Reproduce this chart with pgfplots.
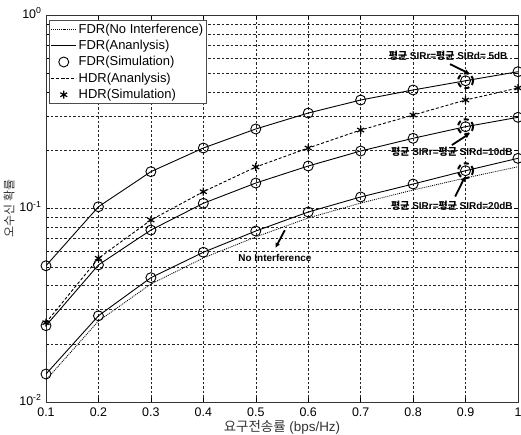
\documentclass[border=0pt]{standalone}
\usepackage{fontspec}
\setmainfont{Liberation Sans}
\newfontfamily\cjk{Noto Sans CJK KR}
\usepackage{pgfplots}
\usepackage{pgfplotstable}
\pgfplotsset{compat=1.18}
\usetikzlibrary{arrows.meta}

% x, FDR 5dB, HDR 5dB, FDR 10dB, FDR 20dB, no interference
\pgfplotstableread{
x    fdrA    hdr     fdrB    fdrC     noint
0.1  0.0506  0.0257  0.0248  0.01395  0.0130
0.2  0.1021  0.0553  0.0511  0.0279   0.0262
0.3  0.1550  0.0872  0.0774  0.0439   0.0407
0.4  0.2054  0.1221  0.1064  0.0594   0.0555
0.5  0.2576  0.1639  0.1354  0.0765   0.0713
0.6  0.3114  0.2054  0.1658  0.0959   0.0893
0.7  0.3636  0.2544  0.1982  0.1147   0.1067
0.8  0.4097  0.3041  0.2306  0.1338   0.1246
0.9  0.4574  0.3636  0.2647  0.1568   0.1438
1.0  0.5093  0.4195  0.2960  0.1817   0.1644
}\data

\begin{document}
\begin{tikzpicture}
\path[use as bounding box] (-46bp,-33bp) rectangle (475bp,402bp);
\begin{axis}[
  width=472bp, height=387bp, scale only axis,
  ymode=log, log basis y=10,
  xmin=0.1, xmax=1, ymin=0.01, ymax=1,
  xtick={0.1,0.2,0.3,0.4,0.5,0.6,0.7,0.8,0.9,1},
  xticklabels={0.1,0.2,0.3,0.4,0.5,0.6,0.7,0.8,0.9,1},
  yticklabel={10\textsuperscript{\pgfmathparse{int(round(\tick))}\pgfmathresult}},
  grid=both,
  major grid style={black!85, line width=0.5bp, dash pattern=on 2.5bp off 2bp},
  minor grid style={black!85, line width=0.5bp, dash pattern=on 2.5bp off 2bp},
  tick align=inside, major tick length=4bp, minor tick length=2.5bp,
  tick style={black, line width=0.5bp},
  axis line style={black!80, line width=0.6bp},
  tick label style={font=\fontsize{12.5}{14}\selectfont},
  xticklabel style={yshift=-2bp},
  yticklabel style={yshift=2bp, xshift=-1bp},
  label style={text=black!80},
  xlabel={{\cjk 요구전송률} (bps/Hz)},
  ylabel={{\cjk 오수신 확률}},
  xlabel style={font=\fontsize{13.5}{15}\selectfont, yshift=3bp},
  ylabel style={font=\fontsize{12}{14}\selectfont, yshift=-2bp},
  legend style={at={(rel axis cs:0.0064,0.987)}, anchor=north west,
    draw=black!70, line width=0.6bp, font=\fontsize{13}{15}\selectfont,
    inner sep=1.5bp, row sep=1.5bp, cells={anchor=west}},
  legend image code/.code={\draw[mark repeat=2,mark phase=2,#1]
    plot coordinates {(0bp,0bp) (12.5bp,0bp) (25bp,0bp)};},
  every axis plot/.append style={black, line width=0.9bp},
]
\addplot[dash pattern=on 1bp off 1bp, line width=0.8bp] table[x=x,y=noint] {\data};
\addlegendentry{FDR(No Interference)}
\addplot[solid] table[x=x,y=fdrA] {\data};
\addlegendentry{FDR(Ananlysis)}
\addplot[only marks, mark=o, mark size=5bp] table[x=x,y=fdrA] {\data};
\addlegendentry{FDR(Simulation)}
\addplot[dash pattern=on 3bp off 2bp] table[x=x,y=hdr] {\data};
\addlegendentry{HDR(Ananlysis)}
\addplot[only marks, mark=asterisk, mark size=4bp, mark options={line width=1.2bp}] table[x=x,y=hdr] {\data};
\addlegendentry{HDR(Simulation)}

\addplot[solid, forget plot] table[x=x,y=fdrB] {\data};
\addplot[only marks, mark=o, mark size=5bp, forget plot] table[x=x,y=fdrB] {\data};
\addplot[solid, forget plot] table[x=x,y=fdrC] {\data};
\addplot[only marks, mark=o, mark size=5bp, forget plot] table[x=x,y=fdrC] {\data};

% dashed highlight circles at x = 0.9
\addplot[only marks, mark=o, mark size=7.5bp, forget plot,
  mark options={line width=2bp, dash pattern=on 5bp off 3.5bp}]
  coordinates {(0.9,0.4574) (0.9,0.2647) (0.9,0.1568)};

\begin{scope}[font=\bfseries\fontsize{10}{12}\selectfont]
\node at (rel axis cs:0.852,0.894) {{\cjk\bfseries 평균} SIRr={\cjk\bfseries 평균} SIRd= 5dB};
\node at (rel axis cs:0.860,0.647) {{\cjk\bfseries 평균} SIRr={\cjk\bfseries 평균} SIRd=10dB};
\node at (rel axis cs:0.860,0.506) {{\cjk\bfseries 평균} SIRr={\cjk\bfseries 평균} SIRd=20dB};
\node at (rel axis cs:0.485,0.371) {No Interference};
\end{scope}
\begin{scope}[line width=1.8bp, -{Latex[length=5bp,width=5bp]}]
\draw (rel axis cs:0.856,0.873) -- (rel axis cs:0.898,0.848);
\draw (rel axis cs:0.860,0.664) -- (rel axis cs:0.898,0.694);
\draw (rel axis cs:0.867,0.531) -- (rel axis cs:0.888,0.583);
\draw (rel axis cs:0.506,0.444) -- (rel axis cs:0.486,0.398);
\end{scope}
\end{axis}
\end{tikzpicture}
\end{document}
